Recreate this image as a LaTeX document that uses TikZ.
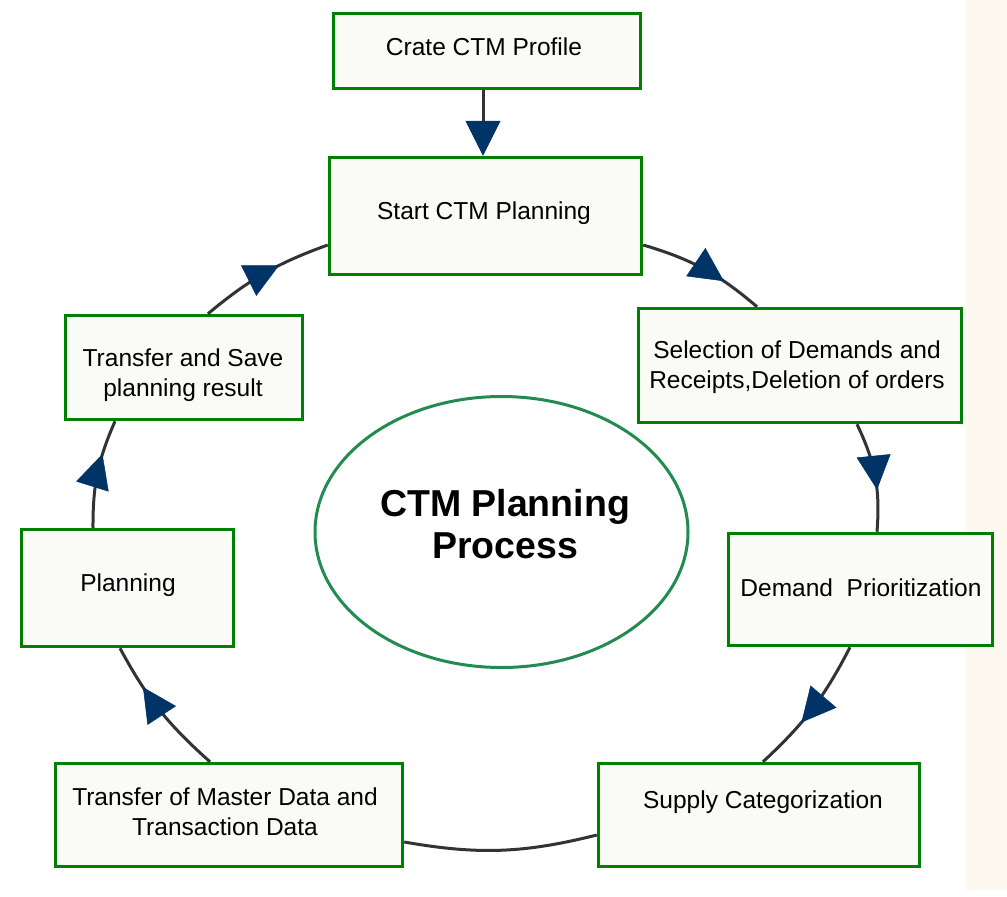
\documentclass[tikz,border=0pt]{standalone}
\usepackage{fontspec}
\setmainfont{Liberation Sans}
\usetikzlibrary{arrows.meta,decorations.markings,calc,shapes.geometric}
\definecolor{boxgreen}{RGB}{0,128,0}
\definecolor{ellgreen}{RGB}{34,139,80}
\definecolor{boxfill}{RGB}{250,250,247}
\definecolor{navy}{RGB}{0,51,102}
\definecolor{linegray}{RGB}{51,51,51}
\definecolor{cream}{RGB}{254,249,240}
\newcommand{\navytip}{\arrow{Triangle[length=34pt,width=34pt,color=navy,line width=0.5pt]}}
\tikzset{
  stepbox/.style={draw=boxgreen,line width=3.5pt,fill=boxfill,rectangle,inner sep=0pt},
  boxtext/.style={font=\fontsize{24.5}{30}\selectfont,align=center,inner sep=0pt,text=black},
  conn/.style={draw=linegray,line width=3pt},
  midtip/.style={postaction={decorate},decoration={markings,mark=at position #1 with {\navytip}}}
}
\begin{document}
\begin{tikzpicture}[x=1pt,y=-1pt]
\useasboundingbox (0,0) rectangle (1007,897);
\fill[white] (0,0) rectangle (1007,897);
\fill[cream] (965,0) rectangle (1007,890);
% boxes
\node[stepbox,minimum width=307pt,minimum height=75pt] (prof) at (487,51) {};
\node[boxtext] (prof-t) at (484,47) {Crate CTM Profile};
\node[stepbox,minimum width=312pt,minimum height=117pt] (start) at (485.5,216) {};
\node[boxtext] (start-t) at (484,213) {Start CTM Planning};
\node[stepbox,minimum width=323pt,minimum height=114pt] (sel) at (800,365.5) {};
\node[boxtext] (sel-t) at (797,367) {Selection of Demands and\\Receipts,Deletion of orders};
\node[stepbox,minimum width=264pt,minimum height=112pt] (dem) at (860.5,589.5) {};
\node[boxtext] (dem-t) at (861,588) {Demand\ \ Prioritization};
\node[stepbox,minimum width=321pt,minimum height=103pt] (sup) at (759,815) {};
\node[boxtext] (sup-t) at (763,802) {Supply Categorization};
\node[stepbox,minimum width=347pt,minimum height=103pt] (mas) at (229,815) {};
\node[boxtext] (mas-t) at (225,812) {Transfer of Master Data and\\Transaction Data};
\node[stepbox,minimum width=212pt,minimum height=117pt] (plan) at (127.5,588) {};
\node[boxtext] (plan-t) at (128,585) {Planning};
\node[stepbox,minimum width=237pt,minimum height=104pt] (save) at (184,367.5) {};
\node[boxtext] (save-t) at (183,375) {Transfer and Save\\planning result};
% centre ellipse
\node[ellipse,draw=ellgreen,line width=3pt,fill=white,minimum width=373pt,minimum height=271pt,inner sep=0pt] (core) at (501.5,532) {};
\node[font=\bfseries\fontsize{37.5}{42}\selectfont,align=center,inner sep=0pt] (core-t) at (505,524) {CTM Planning\\Process};
% connectors
\draw[conn,-{Triangle[length=35pt,width=35pt,color=navy,line width=0.5pt]}] (prof.south -| 483,0) -- (start.north -| 483,0);
\path[conn,midtip=0.68] ($(start.east)+(0,29)$) to[bend left=12] ($(sel.north)+(-43,0)$);
\path[conn,midtip=0.62] ($(sel.south)+(57,0)$) to[bend left=15] ($(dem.north)+(16.5,0)$);
\path[conn,midtip=0.62] ($(dem.south)+(-10.5,0)$) to[bend left=10] ($(sup.north)+(4,0)$);
\path[conn] ($(sup.west)+(0,20)$) to[bend left=12] ($(mas.east)+(0,27)$);
\path[conn,midtip=0.69] ($(mas.north)+(-19,0)$) to[bend left=10] ($(plan.south)+(-7.5,0)$);
\path[conn,midtip=0.68] ($(plan.north)+(-34.5,0)$) to[bend left=12] ($(save.south)+(-69,0)$);
\path[conn,midtip=0.62] ($(save.north)+(24,0)$) to[bend left=10] ($(start.west)+(0,29)$);
\end{tikzpicture}
\end{document}
